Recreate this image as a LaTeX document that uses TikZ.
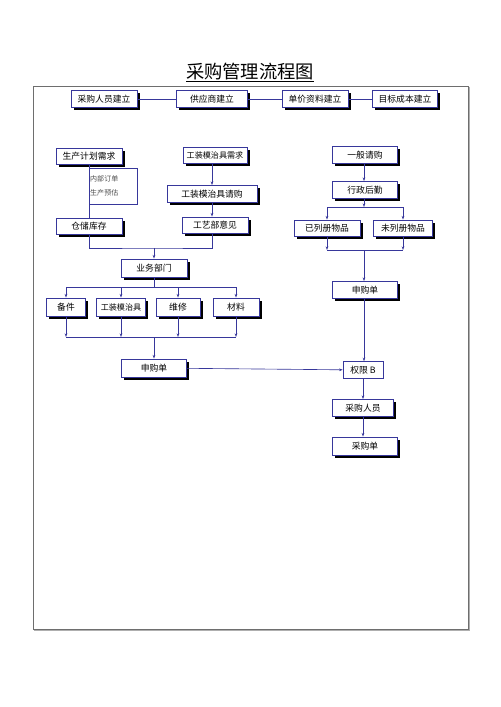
\documentclass[tikz,border=0pt]{standalone}
\usepackage{fontspec}
\setmainfont{Noto Sans CJK SC}
\usetikzlibrary{arrows.meta,shadows}
\definecolor{boxblue}{RGB}{55,55,155}
\definecolor{framegray}{RGB}{110,110,110}
\newcommand{\pxu}{0.05cm}

\begin{document}
\begin{tikzpicture}[x=0.05cm,y=-0.05cm,
  box/.style={draw=boxblue,line width=1.2pt,fill=white,inner sep=0pt,minimum height=17*\pxu,
    font=\fontsize{12.5}{14}\selectfont,
    drop shadow={shadow xshift=0.14cm,shadow yshift=-0.14cm,fill=black,opacity=1}},
  plainbox/.style={draw=boxblue,line width=0.8pt,fill=white,inner sep=0pt,minimum height=17*\pxu,
    font=\fontsize{12.5}{14}\selectfont},
  conn/.style={draw=boxblue,line width=0.9pt},
  tip/.style={conn,-{Stealth[length=1.8mm,width=1.3mm]}}]

\useasboundingbox (0,0) rectangle (500,707);

% frame and title
\draw[framegray!55,line width=1.4pt] (34.5,87.5) rectangle (469.5,630.5);
\draw[framegray,line width=1.1pt,fill=white] (33,86) rectangle (468,629);
\node (title) at (250,72) {\fontsize{26}{28}\selectfont\underline{采购管理流程图}};

% top row
\node[box,minimum width=66*\pxu] (staff) at (104,99) {采购人员建立};
\node[box,minimum width=71*\pxu] (supplier) at (212,99) {供应商建立};
\node[box,minimum width=66*\pxu] (price) at (315,99) {单价资料建立};
\node[box,minimum width=65*\pxu] (cost) at (405,99) {目标成本建立};
\draw[conn] (staff) -- (supplier);  \draw[conn] (supplier) -- (price);  \draw[conn] (price) -- (cost);

% left branch
\node[box,minimum width=66*\pxu,minimum height=16*\pxu] (plan) at (89,156) {生产计划需求};
\node[box,minimum width=66*\pxu,minimum height=16*\pxu] (stock) at (89,226) {仓储库存};
\node[draw=boxblue,line width=0.6pt,anchor=north west,minimum width=48*\pxu,minimum height=36*\pxu,
  inner sep=1pt,text width=2.3cm,align=left,text=black!70,font=\fontsize{10}{20}\selectfont] (memo) at (89,168) {内部订单\\生产预估};
\draw[conn] (plan) -- (stock);

\node[box,minimum width=64*\pxu,minimum height=16*\pxu,font=\fontsize{11.5}{13}\selectfont] (toolneed) at (215,155) {工装模治具需求};
\node[box,minimum width=90*\pxu] (toolbuy) at (212,194) {工装模治具请购};
\node[box,minimum width=66*\pxu,minimum height=16*\pxu] (craft) at (215,225) {工艺部意见};
\draw[tip] (toolneed.south -| toolbuy) -- (toolbuy);
\draw[tip] (toolbuy) -- (toolbuy |- craft.north);

\node[box,minimum width=66*\pxu,minimum height=18*\pxu] (sales) at (154,268) {业务部门};
\coordinate (j1) at (154,248);
\draw[conn] (stock.south) |- (j1) -| (toolbuy |- craft.south);
\draw[tip] (j1) -- (sales);

\node[box,minimum width=39*\pxu,minimum height=18*\pxu] (spare) at (66,307) {备件};
\node[box,minimum width=49*\pxu,minimum height=18*\pxu,font=\fontsize{11.5}{13}\selectfont] (tool) at (121,307) {工装模治具};
\node[box,minimum width=44*\pxu,minimum height=18*\pxu] (repair) at (178,307) {维修};
\node[box,minimum width=46*\pxu,minimum height=18*\pxu] (mater) at (236,307) {材料};
\coordinate (j2) at (154,287);
\coordinate (j3) at (154,337);
\draw[conn] (sales) -- (j2);
\foreach \b in {spare,tool,repair,mater}{
  \draw[tip] (j2) -| (\b);
  \draw[tip] (\b) -- (\b |- j3);
}
\draw[conn] (spare |- j3) -- (mater |- j3);

\node[box,minimum width=65*\pxu,minimum height=18*\pxu] (reqleft) at (154,368) {申购单};
\draw[tip] (j3) -- (reqleft);

% right branch
\node[box,minimum width=65*\pxu] (general) at (365,155) {一般请购};
\node[box,minimum width=65*\pxu] (admin) at (365,190) {行政后勤};
\node[box,minimum width=66*\pxu,minimum height=16*\pxu] (listed) at (327,228) {已列册物品};
\node[box,minimum width=59*\pxu,minimum height=16*\pxu] (unlisted) at (403,228) {未列册物品};
\coordinate (j4) at (364,207);
\coordinate (j5) at (364,250);
\draw[tip] (general.south -| j4) -- (j4 |- admin.north);
\draw[tip] (j4 |- admin.south) -- (j4);
\draw[tip] (j4) -| (listed);
\draw[tip] (j4) -| (unlisted);
\draw[tip] (listed) -- (listed |- j5);
\draw[tip] (unlisted) -- (unlisted |- j5);
\draw[conn] (listed |- j5) -- (unlisted |- j5);

\node[box,minimum width=65*\pxu] (reqright) at (365,290) {申购单};
\draw[tip] (j5) -- (j5 |- reqright.north);

\node[plainbox,minimum width=40*\pxu] (auth) at (363,370) {权限 B};
\node[box,minimum width=61*\pxu] (buyer) at (363,408) {采购人员};
\node[box,minimum width=65*\pxu,minimum height=18*\pxu] (order) at (365,446) {采购单};
\draw[tip] (j5 |- reqright.south) -- (j5 |- auth.north);
\draw[tip] (reqleft) -- (auth);
\draw[tip] (auth) -- (auth |- buyer.north);
\draw[tip] (auth |- buyer.south) -- (auth |- order.north);
\end{tikzpicture}
\end{document}
